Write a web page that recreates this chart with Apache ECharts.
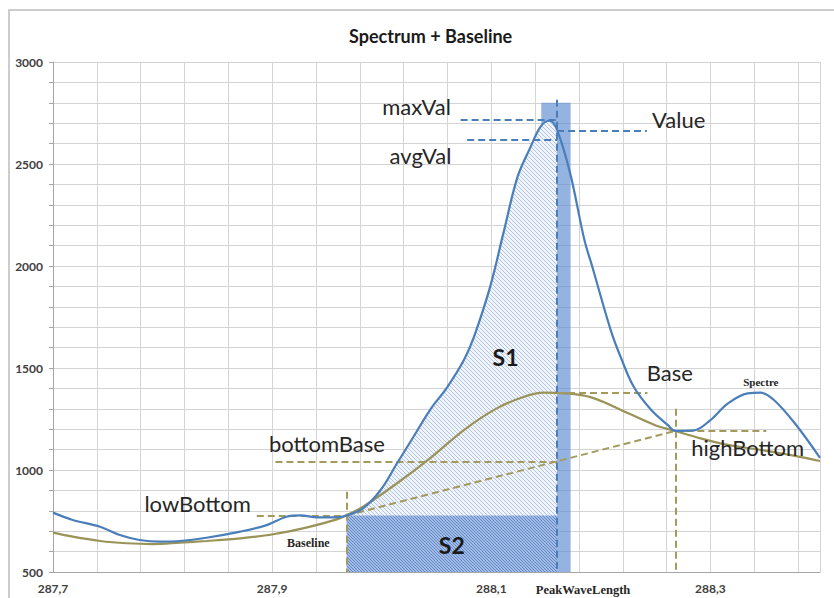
<!DOCTYPE html>
<html><head><meta charset="utf-8">
<script src="https://cdn.jsdelivr.net/npm/echarts@6/dist/echarts.min.js"></script>
<style>html,body{margin:0;padding:0;background:#fff}#c{width:834px;height:598px}</style>
</head><body><div id="c"></div>
<script>
// ---- data ----
const spectrumX = [287.700, 287.718, 287.743, 287.761, 287.779, 287.798, 287.816, 287.840, 287.871, 287.895, 287.913, 287.926, 287.941, 287.959, 287.968, 287.983, 287.999, 288.014, 288.029, 288.044, 288.060, 288.075, 288.084, 288.099, 288.111, 288.124, 288.136, 288.145, 288.153, 288.160, 288.172, 288.185, 288.192, 288.209, 288.218, 288.230, 288.246, 288.261, 288.268, 288.285, 288.300, 288.316, 288.334, 288.346, 288.358, 288.377, 288.400];
const spectrumY = [791, 755, 722, 681, 657, 649, 652, 668, 698, 730, 771, 778, 768, 768, 777, 812, 902, 1033, 1163, 1294, 1408, 1539, 1650, 1899, 2160, 2438, 2585, 2683, 2712, 2667, 2454, 2127, 2000, 1686, 1555, 1408, 1294, 1221, 1192, 1194, 1245, 1327, 1376, 1379, 1343, 1229, 1060];
const baselineX = [287.700, 287.718, 287.743, 287.767, 287.791, 287.816, 287.840, 287.871, 287.901, 287.932, 287.959, 287.968, 287.983, 288.014, 288.044, 288.075, 288.105, 288.130, 288.148, 288.167, 288.192, 288.225, 288.249, 288.268, 288.291, 288.316, 288.346, 288.377, 288.400];
const baselineY = [693, 673, 652, 641, 637, 644, 652, 665, 685, 719, 758, 779, 820, 935, 1057, 1196, 1302, 1359, 1379, 1376, 1355, 1278, 1221, 1191, 1155, 1123, 1098, 1069, 1044];

const xTickValues = [287.7, 287.9, 288.1, 288.3];
const xTickLabels = ['287,7', '287,9', '288,1', '288,3'];
const yTickValues = [500, 1000, 1500, 2000, 2500, 3000];
const yTickLabels = ['500', '1000', '1500', '2000', '2500', '3000'];

const peakWaveLength = 288.16;
const maxVal = 2715;
const avgVal = 2620;
const peakValue = 2665;
const lowBottom = [287.968, 777];
const highBottom = [288.268, 1192];
const bottomBase = 1041;
const baseVal = 1380;
const peakBand = [288.1456, 288.1724];
const peakBandTop = 2800;

// ---- layout (annotation extents / label anchors) ----
const L = {
  xMin: 287.7, xMax: 288.4, yMin: 500, yMax: 3000,
  maxValStart: 288.072, avgValStart: 288.078, valueEnd: 288.242,
  peakTop: 2815, lowBottomStart: 287.886, lowBottomTop: 893,
  bottomBaseStart: 287.903, baseEnd: 288.2425, highBottomEnd: 288.351, highBottomTop: 1300
};

function hatch(bg, fg, p) {
  const c = document.createElement('canvas');
  c.width = p; c.height = p;
  const g = c.getContext('2d');
  g.fillStyle = bg; g.fillRect(0, 0, p, p);
  g.fillStyle = fg;
  for (let i = 0; i < p; i++) g.fillRect(i, i, 1, 1);
  return { image: c.toDataURL(), repeat: 'repeat', imageWidth: p, imageHeight: p };
}

const zip = (xs, ys) => xs.map((x, i) => [x, ys[i]]);
const spectrum = zip(spectrumX, spectrumY);
const baseline = zip(baselineX, baselineY);
const s1 = spectrum.filter(p => p[0] >= lowBottom[0] - 1e-9 && p[0] <= peakWaveLength + 1e-9);
const s2 = [[lowBottom[0], lowBottom[1]], [peakWaveLength, lowBottom[1]]];

const blue = '#4a7ebb', olive = '#9a9358';
const blueDash = { color: blue, width: 2, type: [7, 4] };
const oliveDash = { color: '#a39a5c', width: 2, type: [7, 4] };
const seg = (a, b, style) => [{ coord: a, lineStyle: style }, { coord: b }];

const bigTxt = { fontFamily: 'Lato', fontSize: 22, color: '#262626' };
const boldTxt = { fontFamily: 'Lato', fontSize: 23, fontWeight: 'bold', color: '#1a1a1a' };
const serifTxt = { fontFamily: 'Liberation Serif', fontSize: 11, fontWeight: 'bold', color: '#262626' };
const pt = (coord, text, st, offset) => ({ coord, label: Object.assign({ formatter: text, position: 'inside', offset: offset || [0, 0] }, st) });

const chart = echarts.init(document.getElementById('c'), null, { renderer: 'svg' });
chart.setOption({
  animation: false,
  backgroundColor: '#fff',
  title: { text: 'Spectrum + Baseline', left: 344, top: 22, textStyle: { fontFamily: 'Lato', fontSize: 18, fontWeight: 'bold', color: '#1a1a1a' } },
  graphic: [{ type: 'rect', shape: { x: 9, y: 10, width: 900, height: 700 }, style: { fill: 'none', stroke: '#bdbdbd', lineWidth: 1.5 }, silent: true }],
  grid: { left: 53, right: 14, top: 62, bottom: 26 },
  xAxis: [
    { type: 'value', min: L.xMin, max: L.xMax, interval: 0.1,
      axisLine: { lineStyle: { color: '#a6a6a6' } }, axisTick: { show: false }, splitLine: { show: false },
      axisLabel: { margin: 10, fontFamily: 'Lato', fontSize: 12, fontWeight: 'bold', color: '#404040',
        formatter: v => { const i = xTickValues.findIndex(t => Math.abs(t - v) < 1e-6); return i >= 0 ? xTickLabels[i] : ''; } } },
    { type: 'value', min: 0, max: L.xMax - L.xMin, interval: 0.04, position: 'bottom',
      axisLine: { show: false }, axisTick: { show: false }, axisLabel: { show: false },
      splitLine: { show: true, lineStyle: { color: '#d4d4d4', width: 1 } } }
  ],
  yAxis: { type: 'value', min: L.yMin, max: L.yMax, interval: 500,
    axisLine: { show: true, lineStyle: { color: '#a6a6a6' } },
    axisTick: { show: true, length: 4, lineStyle: { color: '#a6a6a6' } },
    minorTick: { show: true, splitNumber: 5, length: 4, lineStyle: { color: '#a6a6a6' } },
    splitLine: { lineStyle: { color: '#d4d4d4' } },
    minorSplitLine: { show: true, lineStyle: { color: '#d4d4d4' } },
    axisLabel: { margin: 10, fontFamily: 'Lato', fontSize: 12, fontWeight: 'bold', color: '#404040',
      formatter: v => { const i = yTickValues.indexOf(v); return i >= 0 ? yTickLabels[i] : ''; } } },
  series: [
    { name: 'S1', type: 'line', data: s1, smooth: 0.35, showSymbol: false, z: 1,
      lineStyle: { width: 0 }, areaStyle: { color: hatch('#f1f5fb', '#b0c4e6', 4), opacity: 1 } },
    { name: 'S2', type: 'line', data: s2, showSymbol: false, z: 2,
      lineStyle: { width: 0 }, areaStyle: { color: hatch('#a3bce5', '#6288c8', 3), opacity: 1 } },
    { name: 'band', type: 'line', data: [], z: 3,
      markArea: { silent: true, itemStyle: { color: 'rgba(92,140,210,0.66)' },
        data: [[{ coord: [peakBand[0], L.yMin] }, { coord: [peakBand[1], peakBandTop] }]] } },
    { name: 'Baseline', type: 'line', data: baseline, smooth: 0.35, showSymbol: false, z: 4,
      lineStyle: { color: olive, width: 2.2 } },
    { name: 'Spectre', type: 'line', data: spectrum, smooth: 0.35, showSymbol: false, z: 5,
      lineStyle: { color: blue, width: 2.2 } },
    { name: 'marks', type: 'line', data: [], z: 6,
      markLine: { silent: true, symbol: 'none', label: { show: false },
        data: [
          seg([L.maxValStart, maxVal], [peakWaveLength, maxVal], blueDash),
          seg([L.avgValStart, avgVal], [peakWaveLength, avgVal], blueDash),
          seg([peakWaveLength, peakValue], [L.valueEnd, peakValue], blueDash),
          seg([peakWaveLength, L.peakTop], [peakWaveLength, L.yMin], blueDash),
          seg([L.lowBottomStart, lowBottom[1]], lowBottom, oliveDash),
          seg([lowBottom[0], L.lowBottomTop], [lowBottom[0], L.yMin], oliveDash),
          seg([L.bottomBaseStart, bottomBase], [peakWaveLength, bottomBase], oliveDash),
          seg(lowBottom, highBottom, oliveDash),
          seg([peakWaveLength, baseVal], [L.baseEnd, baseVal], oliveDash),
          seg(highBottom, [L.highBottomEnd, highBottom[1]], oliveDash),
          seg([highBottom[0], L.highBottomTop], [highBottom[0], L.yMin], oliveDash)
        ] },
      markPoint: { silent: true, symbol: 'rect', symbolSize: 1, itemStyle: { color: 'rgba(0,0,0,0)' },
        data: [
          pt([288.0318, 2784], 'maxVal', bigTxt),
          pt([288.0354, 2544], 'avgVal', bigTxt),
          pt([288.271, 2716], 'Value', bigTxt),
          pt([288.113, 1554], 'S1', boldTxt),
          pt([288.064, 632], 'S2', boldTxt),
          pt([287.950, 1132], 'bottomBase', bigTxt),
          pt([287.832, 838], 'lowBottom', bigTxt),
          pt([288.263, 1480], 'Base', bigTxt),
          pt([288.334, 1108], 'highBottom', bigTxt),
          pt([288.346, 1431], 'Spectre', serifTxt),
          pt([287.933, 642], 'Baseline', Object.assign({}, serifTxt, { fontSize: 12 })),
          pt([peakWaveLength, L.yMin], 'PeakWaveLength', Object.assign({}, serifTxt, { fontSize: 12.5 }), [26, 18])
        ] } }
  ]
});
</script></body></html>
